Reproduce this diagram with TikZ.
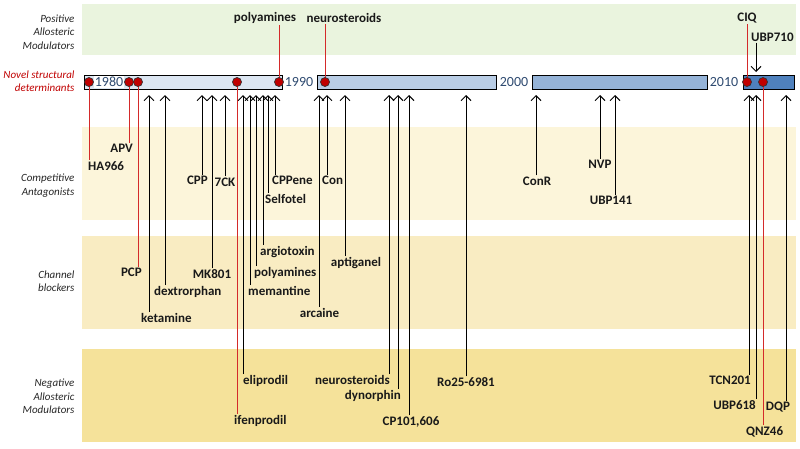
\documentclass[tikz,border=0pt]{standalone}
\usepackage{fontspec}
\setmainfont{Carlito}
\usetikzlibrary{arrows.meta}

\definecolor{pamband}{HTML}{EAF4DE}
\definecolor{compband}{HTML}{FCF5DA}
\definecolor{chanband}{HTML}{F9ECC2}
\definecolor{namband}{HTML}{F5E29A}
\definecolor{dec80}{HTML}{DCE6F2}
\definecolor{dec90}{HTML}{B9CDE5}
\definecolor{dec00}{HTML}{95B3D7}
\definecolor{dec10}{HTML}{4F81BD}
\definecolor{yearblue}{HTML}{2E4A70}
\definecolor{dotred}{HTML}{C00000}
\definecolor{linered}{HTML}{D42A2A}

\tikzset{
  lbl/.style={font=\fontsize{13}{14}\selectfont\bfseries, inner sep=1pt, text=black!90},
  cat/.style={font=\fontsize{11}{13.5}\selectfont\itshape, align=right, anchor=east, text=black!85},
  yr/.style={font=\fontsize{14}{16}\selectfont, text=yearblue, fill=white, inner sep=1pt},
  dot/.style={circle, draw=black!80, fill=dotred, inner sep=0pt, minimum size=9pt, line width=0.7pt},
  up/.style={-{Straight Barb[length=5pt,width=10pt]}, line width=1pt},
  redln/.style={draw=linered, line width=1pt},
  decade/.style={draw=black, line width=0.9pt}
}

\begin{document}
\begin{tikzpicture}[x=1pt,y=-1pt]
\useasboundingbox (0,0) rectangle (800,448);

% bands
\fill[pamband] (82,4) rectangle (796,55);
\fill[compband] (82,127) rectangle (796,220);
\fill[chanband] (82,236) rectangle (796,329);
\fill[namband] (82,349) rectangle (796,442);

\node[cat] (pam) at (78,32) {Positive\\Allosteric\\Modulators};
\node[cat, text=dotred] (nsd) at (78,81) {Novel structural\\determinants};
\node[cat] (comp) at (78,185.5) {Competitive\\Antagonists};
\node[cat] (chan) at (78,281) {Channel\\blockers};
\node[cat] (nam) at (78,396.5) {Negative\\Allosteric\\Modulators};

% time line
\draw[decade, fill=dec80] (84,75) rectangle (282,89);
\draw[decade, fill=dec90] (317,75) rectangle (496,89);
\draw[decade, fill=dec00] (532,75) rectangle (707,89);
\draw[decade, fill=dec10] (743,75) rectangle (794,89);
\node[yr] (y80) at (109,82) {1980};
\node[yr, fill=none] (y90) at (299,82) {1990};
\node[yr, fill=none] (y00) at (514,82) {2000};
\node[yr, fill=none] (y10) at (724,82) {2010};

% red dots
\coordinate (r1) at (89,82);
\coordinate (r2) at (129,82);
\coordinate (r3) at (138,82);
\coordinate (r4) at (237,82);
\coordinate (r5) at (279,82);
\coordinate (r6) at (325,82);
\coordinate (r7) at (747,82);
\coordinate (r8) at (763,82);

% arrow tips under the bar
\coordinate (aKet) at (149,95);
\coordinate (aDex) at (165,95);
\coordinate (aCpp) at (202,95);
\coordinate (aMk) at (212,95);
\coordinate (a7ck) at (225,95);
\coordinate (aEli) at (243,95);
\coordinate (aMem) at (250,95);
\coordinate (aPol) at (256,95);
\coordinate (aArg) at (263,95);
\coordinate (aSel) at (268,95);
\coordinate (aCpe) at (275,95);
\coordinate (aArc) at (319,95);
\coordinate (aCon) at (327,95);
\coordinate (aApt) at (345,95);
\coordinate (aNeu) at (389,95);
\coordinate (aDyn) at (398,95);
\coordinate (aCp1) at (409,95);
\coordinate (aRo) at (466,95);
\coordinate (aConR) at (536,95);
\coordinate (aNvp) at (600,95);
\coordinate (aUbp1) at (615,95);
\coordinate (aTcn) at (749,95);
\coordinate (aUbp6) at (756,95);
\coordinate (aDqp) at (786,95);
\coordinate (aUbp7) at (756,72);

% drug labels
\node[lbl] (pPol) at (265,18) {polyamines};
\node[lbl] (pNeu) at (344,18) {neurosteroids};
\node[lbl] (pCiq) at (747,18) {CIQ};
\node[lbl, anchor=mid west] (pUbp) at (750,39) {UBP710};

\node[lbl, anchor=mid west] (ha) at (87,168) {HA966};
\node[lbl, anchor=mid east] (apv) at (134,150) {APV};
\node[lbl, anchor=mid east] (cpp) at (209,182) {CPP};
\node[lbl] (sck) at (225,182) {7CK};
\node[lbl, anchor=mid west] (cpe) at (271,182) {CPPene};
\node[lbl, anchor=mid west] (sel) at (264,201) {Selfotel};
\node[lbl, anchor=mid west] (con) at (321,182) {Con};
\node[lbl] (conr) at (537,181) {ConR};
\node[lbl] (nvp) at (600,164) {NVP};
\node[lbl] (ubp1) at (611,200) {UBP141};

\node[lbl, anchor=mid east] (pcp) at (143,274) {PCP};
\node[lbl, anchor=mid west] (dex) at (153,293) {dextrorphan};
\node[lbl, anchor=mid west] (ket) at (140,320) {ketamine};
\node[lbl] (mk) at (212,274) {MK801};
\node[lbl, anchor=mid west] (arg) at (259,253) {argiotoxin};
\node[lbl, anchor=mid west] (pol) at (253,274) {polyamines};
\node[lbl, anchor=mid west] (mem) at (247,293) {memantine};
\node[lbl] (arc) at (319.5,313) {arcaine};
\node[lbl] (apt) at (356,263) {aptiganel};

\node[lbl, anchor=mid west] (eli) at (242,382) {eliprodil};
\node[lbl, anchor=mid west] (ifen) at (233,422) {ifenprodil};
\node[lbl, anchor=mid east] (neu) at (391,382) {neurosteroids};
\node[lbl, anchor=mid east] (dyn) at (402,397) {dynorphin};
\node[lbl] (cp1) at (411,422) {CP101,606};
\node[lbl] (ro) at (466,382) {Ro25-6981};
\node[lbl, anchor=mid east] (tcn) at (752,382) {TCN201};
\node[lbl, anchor=mid east] (ubp6) at (757,407) {UBP618};
\node[lbl] (dqp) at (778,407) {DQP};
\node[lbl, anchor=mid west] (qnz) at (745,433) {QNZ46};

% red connectors
\draw[redln] (r5 |- pPol.south) -- (r5);
\draw[redln] (r6 |- pNeu.south) -- (r6);
\draw[redln] (r7 |- pCiq.south) -- (r7);
\draw[redln] (r1) -- (r1 |- ha.north);
\draw[redln] (r2) -- (r2 |- apv.north);
\draw[redln] (r3) -- (r3 |- pcp.north);
\draw[redln] (r4) -- (r4 |- ifen.north);
\draw[redln] (r8) -- (r8 |- qnz.north);

% arrows up to the time line
\draw[up] (aKet |- ket.north) -- (aKet);
\draw[up] (aDex |- dex.north) -- (aDex);
\draw[up] (aCpp |- cpp.north) -- (aCpp);
\draw[up] (aMk |- mk.north) -- (aMk);
\draw[up] (a7ck |- sck.north) -- (a7ck);
\draw[up] (aEli |- eli.north) -- (aEli);
\draw[up] (aMem |- mem.north) -- (aMem);
\draw[up] (aPol |- pol.north) -- (aPol);
\draw[up] (aArg |- arg.north) -- (aArg);
\draw[up] (aSel |- sel.north) -- (aSel);
\draw[up] (aCpe |- cpe.north) -- (aCpe);
\draw[up] (aArc |- arc.north) -- (aArc);
\draw[up] (aCon |- con.north) -- (aCon);
\draw[up] (aApt |- apt.north) -- (aApt);
\draw[up] (aNeu |- neu.north) -- (aNeu);
\draw[up] (aDyn |- dyn.north) -- (aDyn);
\draw[up] (aCp1 |- cp1.north) -- (aCp1);
\draw[up] (aRo |- ro.north) -- (aRo);
\draw[up] (aConR |- conr.north) -- (aConR);
\draw[up] (aNvp |- nvp.north) -- (aNvp);
\draw[up] (aUbp1 |- ubp1.north) -- (aUbp1);
\draw[up] (aTcn |- tcn.north) -- (aTcn);
\draw[up] (aUbp6 |- ubp6.north) -- (aUbp6);
\draw[up] (aDqp |- dqp.north) -- (aDqp);
\draw[up] (aUbp7 |- pUbp.south) -- (aUbp7);

% dots on top
\foreach \r in {1,...,8}
  \node[dot] (d\r) at (r\r) {};
\end{tikzpicture}
\end{document}
